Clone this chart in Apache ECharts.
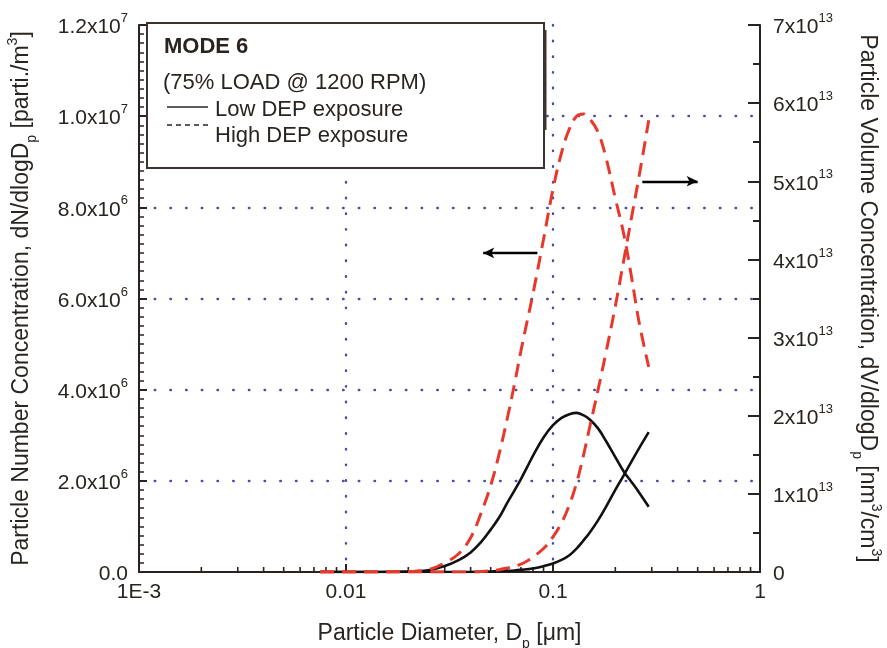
<!DOCTYPE html>
<html><head><meta charset="utf-8">
<script src="https://cdn.jsdelivr.net/npm/echarts@6/dist/echarts.min.js"></script>
<style>html,body{margin:0;padding:0;background:#fff}#c{width:887px;height:648px}</style>
</head><body><div id="c"></div>
<script>
// Particle diameter (µm)
const diameter = [0.0075, 0.01, 0.015, 0.02, 0.025, 0.03, 0.035, 0.04, 0.045, 0.05, 0.055, 0.06, 0.065, 0.07, 0.075, 0.08, 0.09, 0.1, 0.11, 0.12, 0.13, 0.14, 0.15, 0.165, 0.18, 0.2, 0.22, 0.24, 0.26, 0.29];
// Number concentration (x1e6 parti./m3) - left axis
const numLowE6  = [0, 0, 0, 0.01, 0.04, 0.13, 0.26, 0.43, 0.66, 0.93, 1.2, 1.51, 1.78, 2.04, 2.3, 2.55, 2.95, 3.22, 3.38, 3.46, 3.49, 3.44, 3.35, 3.15, 2.88, 2.52, 2.2, 1.97, 1.75, 1.43];
const numHighE6 = [0, 0, 0, 0.01, 0.05, 0.2, 0.4, 0.75, 1.3, 1.9, 2.6, 3.35, 4.1, 4.85, 5.5, 6.1, 7.3, 8.4, 9.2, 9.72, 10.0, 10.05, 9.95, 9.65, 9.1, 8.2, 7.4, 6.45, 5.5, 4.5];
// Volume concentration (x1e13 nm3/cm3) - right axis
const volLowE13  = [0, 0, 0, 0, 0, 0, 0, 0, 0.003, 0.006, 0.01, 0.015, 0.02, 0.027, 0.035, 0.045, 0.075, 0.11, 0.155, 0.215, 0.3, 0.4, 0.5, 0.66, 0.83, 1.05, 1.24, 1.42, 1.58, 1.79];
const volHighE13 = [0, 0, 0, 0, 0, 0, 0, 0, 0.005, 0.015, 0.03, 0.05, 0.07, 0.1, 0.14, 0.19, 0.3, 0.45, 0.63, 0.86, 1.14, 1.48, 1.84, 2.33, 2.8, 3.4, 4.0, 4.55, 5.05, 5.78];
// Axis ranges / ticks
const xRange = [0.001, 1];
const xTickLabels = {0.001: '1E-3', 0.01: '0.01', 0.1: '0.1', 1: '1'};
const leftRange = [0, 1.2e7], leftStep = 2e6;
const rightRange = [0, 7e13], rightStep = 1e13;
// Annotation arrows (data coordinates)
const arrowNumber = [[0.084, 7.0e6], [0.046, 7.0e6]];
const arrowVolume = [[0.27, 5.0e13], [0.50, 5.0e13]];
// Legend texts
const legendTitle = 'MODE 6';
const legendSub = '(75% LOAD @ 1200 RPM)';
const legendLow = 'Low DEP exposure';
const legendHigh = 'High DEP exposure';

const FONT = '"Liberation Sans", Arial, sans-serif';
const INK = '#2a2421';
const AX = '#2a2220';
const GRID = '#4b4ba6';

const minorX = [];
for (let e = -3; e < 0; e++) for (let k = 2; k <= 9; k++) minorX.push(+(k * Math.pow(10, e)).toPrecision(3));

function pairs(arr, f) { return diameter.map((d, i) => [d, arr[i] * f]); }

function leftFmt(v) {
  if (v === 0) return '{m|0.0}';
  const e = Math.floor(Math.log10(v) + 1e-9);
  return '{m|' + (v / Math.pow(10, e)).toFixed(1) + 'x10}{s|' + e + '}';
}
function rightFmt(v) {
  if (v === 0) return '{m|0}';
  const e = Math.floor(Math.log10(v) + 1e-9);
  return '{m|' + Math.round(v / Math.pow(10, e)) + 'x10}{s|' + e + '}';
}
const labRich = {
  m: {fontSize: 21, fontFamily: FONT, color: INK, lineHeight: 26, verticalAlign: 'bottom'},
  s: {fontSize: 13, fontFamily: FONT, color: INK, lineHeight: 13, verticalAlign: 'top'}
};
const nameRich = {
  sub: {fontSize: 14, fontFamily: FONT, color: INK, verticalAlign: 'bottom', lineHeight: 14, padding: [0, 0, -6, 0]},
  sup: {fontSize: 14, fontFamily: FONT, color: INK, verticalAlign: 'top', lineHeight: 14, padding: [-4, 0, 0, 0]}
};
const dotted = {color: GRID, width: 2.4, type: [0.5, 15.2], cap: 'round'};

const chart = echarts.init(document.getElementById('c'), null, {renderer: 'canvas'});
chart.setOption({
  animation: false,
  backgroundColor: '#fff',
  grid: {left: 139, right: 127, top: 25, bottom: 76, containLabel: false, outerBoundsMode: 'none'},
  xAxis: [{
    type: 'log', logBase: 10, min: xRange[0], max: xRange[1],
    axisLine: {show: true, lineStyle: {color: AX, width: 2}},
    axisTick: {show: true, inside: true, length: 8, lineStyle: {color: AX, width: 2}},
    minorTick: {show: false},
    axisLabel: {margin: 10, fontSize: 21, fontFamily: FONT, color: INK, formatter: v => xTickLabels[+v.toPrecision(3)] || ''},
    splitLine: {show: true, showMinLine: false, showMaxLine: false, lineStyle: dotted},
    name: 'Particle Diameter, D{sub|p} [\u03bcm]', nameLocation: 'middle', nameGap: 50,
    nameTextStyle: {fontSize: 23, fontFamily: FONT, color: INK, rich: nameRich}
  }],
  yAxis: [{
    type: 'value', position: 'left', min: leftRange[0], max: leftRange[1], interval: leftStep,
    axisLine: {show: true, lineStyle: {color: AX, width: 2}},
    axisTick: {show: true, inside: true, length: 8, lineStyle: {color: AX, width: 2}},
    minorTick: {show: true, splitNumber: 10, length: 5, lineStyle: {color: AX, width: 1.5}},
    axisLabel: {margin: 11, formatter: leftFmt, rich: labRich},
    splitLine: {show: true, showMinLine: false, showMaxLine: false, lineStyle: dotted},
    name: 'Particle Number Concentration, dN/dlogD{sub|p} [parti./m{sup|3}]', nameLocation: 'middle', nameGap: 106,
    nameTextStyle: {fontSize: 23, fontFamily: FONT, color: INK, rich: nameRich}
  }, {
    type: 'value', position: 'right', min: rightRange[0], max: rightRange[1], interval: rightStep,
    axisLine: {show: true, lineStyle: {color: AX, width: 2}},
    axisTick: {show: true, inside: true, length: 12, lineStyle: {color: AX, width: 2}},
    minorTick: {show: true, splitNumber: 2, length: 7, lineStyle: {color: AX, width: 2}},
    axisLabel: {margin: 13, formatter: rightFmt, rich: labRich},
    splitLine: {show: false},
    name: 'Particle Volume Concentration, dV/dlogD{sub|p} [nm{sup|3}/cm{sup|3}]', nameLocation: 'middle', nameGap: 96, nameRotate: -90,
    nameTextStyle: {fontSize: 23, fontFamily: FONT, color: INK, rich: nameRich}
  }],
  series: [
    {type: 'custom', xAxisIndex: 0, yAxisIndex: 0, silent: true, clip: false, z: 4,
      data: minorX.map(v => [v, 0]),
      renderItem: (params, api) => {
        const p = api.coord([api.value(0), 0]);
        return {type: 'line', shape: {x1: p[0], y1: p[1], x2: p[0], y2: p[1] - 5}, style: {stroke: AX, lineWidth: 1.6}};
      }},
    {name: 'num-low', type: 'line', yAxisIndex: 0, data: pairs(numLowE6, 1e6), showSymbol: false, smooth: 0.4,
      lineStyle: {color: '#111', width: 2.6}, z: 5,
      markLine: {silent: true, symbol: ['none', 'arrow'], symbolSize: [8, 11], label: {show: false},
        lineStyle: {color: '#000', type: 'solid', width: 2.4}, data: [[{coord: arrowNumber[0]}, {coord: arrowNumber[1]}]]}},
    {name: 'vol-low', type: 'line', yAxisIndex: 1, data: pairs(volLowE13, 1e13), showSymbol: false, smooth: 0.4,
      lineStyle: {color: '#111', width: 2.6}, z: 5,
      markLine: {silent: true, symbol: ['none', 'arrow'], symbolSize: [8, 11], label: {show: false},
        lineStyle: {color: '#000', type: 'solid', width: 2.4}, data: [[{coord: arrowVolume[0]}, {coord: arrowVolume[1]}]]}},
    {name: 'num-high', type: 'line', yAxisIndex: 0, data: pairs(numHighE6, 1e6), showSymbol: false, smooth: 0.4,
      lineStyle: {color: '#e8382c', width: 3, type: [14, 8]}, z: 6},
    {name: 'vol-high', type: 'line', yAxisIndex: 1, data: pairs(volHighE13, 1e13), showSymbol: false, smooth: 0.4,
      lineStyle: {color: '#e8382c', width: 3, type: [14, 8]}, z: 6}
  ],
  graphic: [
    {type: 'rect', z: 100, shape: {x: 147, y: 23, width: 397, height: 145}, style: {fill: '#fff', stroke: '#3b3330', lineWidth: 2}},
    {type: 'line', z: 101, shape: {x1: 545, y1: 30, x2: 545, y2: 130}, style: {stroke: '#3b3330', lineWidth: 3}},
    {type: 'text', z: 101, style: {x: 164, y: 47, text: legendTitle, font: 'bold 22px ' + FONT, fill: INK, verticalAlign: 'middle'}},
    {type: 'text', z: 101, style: {x: 163, y: 83, text: legendSub, font: '22px ' + FONT, fill: INK, verticalAlign: 'middle'}},
    {type: 'line', z: 101, shape: {x1: 167, y1: 107, x2: 208, y2: 107}, style: {stroke: INK, lineWidth: 1.5}},
    {type: 'text', z: 101, style: {x: 215, y: 110, text: legendLow, font: '22px ' + FONT, fill: INK, verticalAlign: 'middle'}},
    {type: 'line', z: 101, shape: {x1: 167, y1: 125, x2: 208, y2: 125}, style: {stroke: INK, lineWidth: 1.5, lineDash: [5, 4]}},
    {type: 'text', z: 101, style: {x: 215, y: 136, text: legendHigh, font: '22px ' + FONT, fill: INK, verticalAlign: 'middle'}}
  ]
});
</script>
</body></html>
